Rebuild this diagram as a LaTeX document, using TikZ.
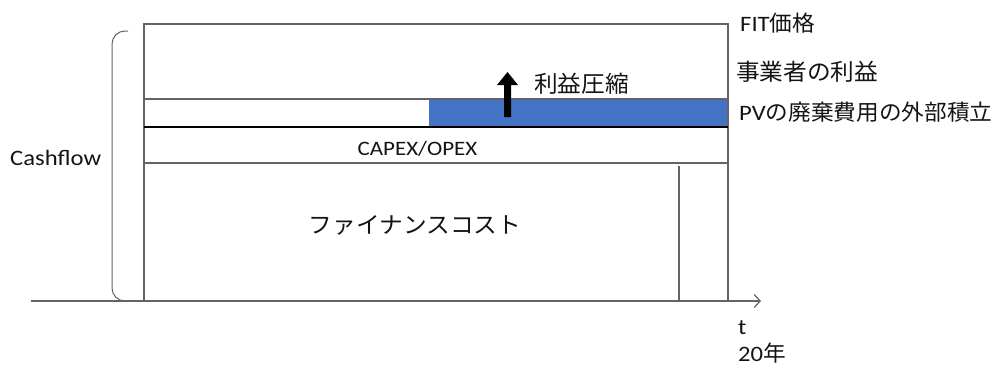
\documentclass[tikz,border=0pt]{standalone}
\usepackage{fontspec}
\newfontfamily\latf[FakeStretch=1.12]{Carlito}
\newfontfamily\jpf[FakeStretch=1.03]{Noto Sans CJK JP}
\usetikzlibrary{arrows.meta}
\definecolor{ln}{RGB}{100,100,100}
\definecolor{txt}{RGB}{20,20,20}
\definecolor{blu}{RGB}{68,114,196}
\begin{document}
\begin{tikzpicture}[x=1pt,y=-1pt,
  lbl/.style={inner sep=0pt,anchor=base west,text=txt},
  clbl/.style={inner sep=0pt,anchor=base,text=txt},
  box/.style={draw=ln,line width=1.4pt},
  fs/.style={font=\latf\fontsize{#1}{#1}\selectfont}]
\useasboundingbox (0,0) rectangle (1008,367);
% blue band
\fill[blu] (429,99) rectangle (728,127);
% main frame
\draw[box] (144,301) -- (144,24) -- (728,24) -- (728,301);
\draw[box] (144,99) -- (728,99);
\draw[black,line width=1.4pt] (144,127) -- (728,127);
\draw[box] (144,163) -- (728,163);
\draw[box] (679,166) -- (679,301);
% axis
\coordinate (ax0) at (31,301);
\coordinate (ax1) at (761,301);
\draw[ln,line width=1.2pt,-{Straight Barb[length=6pt,width=13pt]}] (ax0) -- (ax1);
% bracket
\draw[ln,line width=1pt,rounded corners=13pt] (128,31) -- (112,31) -- (112,301) -- (128,301);
% block arrow
\fill[black] (504,117) -- (504,85) -- (497,85) -- (507.5,72) -- (518,85) -- (511,85) -- (511,117) -- cycle;
% labels
\node[lbl,fs=22] (fit) at (740,31) {FIT{\jpf 価格}};
\node[lbl,fs=23] (profit) at (736,80) {\jpf 事業者の利益};
\node[lbl,fs=22] (pv) at (739,120) {PV{\jpf の廃棄費用の外部積立}};
\node[lbl,fs=23] (comp) at (534,92) {\jpf 利益圧縮};
\node[clbl,fs=20.5] (capex) at (417.5,155) {CAPEX/OPEX};
\node[clbl,fs=23] (fin) at (415,233) {\jpf ファイナンスコスト};
\node[lbl,fs=22] (cf) at (10,165) {Cashflow};
\node[lbl,fs=22] (t) at (738,334) {t};
\node[lbl,fs=22] (yr) at (738,361) {20{\jpf 年}};
\end{tikzpicture}
\end{document}
